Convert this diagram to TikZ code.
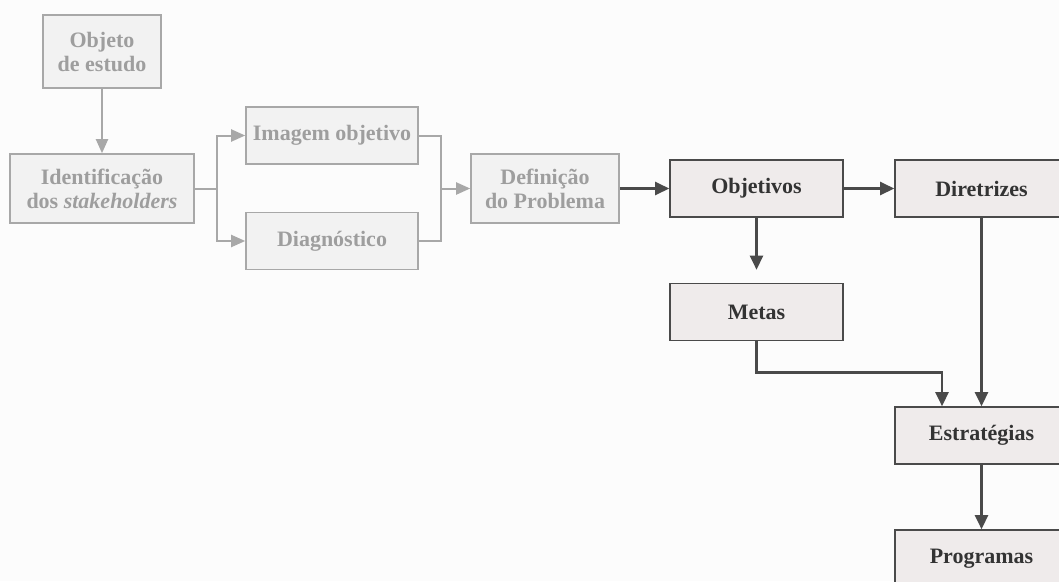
\documentclass[tikz,border=0pt]{standalone}
\usepackage{fontspec}
\setmainfont{Liberation Serif}
\usetikzlibrary{arrows.meta,positioning}

\definecolor{pagebg}{HTML}{FCFCFC}
\definecolor{softfill}{HTML}{F2F2F2}
\definecolor{softline}{HTML}{A8A8A8}
\definecolor{softtext}{HTML}{9E9E9E}
\definecolor{hardfill}{HTML}{EFEBEB}
\definecolor{hardline}{HTML}{4A4A4A}
\definecolor{hardtext}{HTML}{333333}

\tikzset{
  box/.style={rectangle,draw,line width=1.6pt,align=center,
    font=\fontsize{22}{24}\selectfont\bfseries,inner sep=0pt},
  softbox/.style={box,draw=softline,fill=softfill,text=softtext},
  hardbox/.style={box,draw=hardline,fill=hardfill,text=hardtext,
    minimum width=173pt,minimum height=57pt},
  softarrow/.style={draw=softline,line width=2pt,
    -{Triangle[length=14pt,width=12pt]}},
  hardarrow/.style={draw=hardline,line width=2.4pt,
    -{Triangle[length=14pt,width=13pt]}},
}

\begin{document}
\begin{tikzpicture}[x=1pt,y=1pt,on grid]
   \useasboundingbox (0,0) rectangle (1059,-581);
   \fill[pagebg] (0,0) rectangle (1059,-581);
   \clip (0,0) rectangle (1059,-581);

   \node[softbox,minimum width=118pt,minimum height=73pt] (objeto) at (102,-51.5) {Objeto\\de estudo};
   \node[softbox,minimum width=184pt,minimum height=69pt] (ident) [below=137pt of objeto] {Identificação\\dos \textit{stakeholders}};
   \node[softbox,minimum width=172pt,minimum height=57pt] (imagem) [above right=53pt and 230pt of ident] {Imagem objetivo};
   \node[softbox,minimum width=172pt,minimum height=57pt] (diag) [below right=52.5pt and 230pt of ident] {Diagnóstico};
   \node[softbox,minimum width=148pt,minimum height=69pt] (defin) [right=443pt of ident] {Definição\\do Problema};

   \node[hardbox] (objetivos) [right=211.5pt of defin] {Objetivos};
   \node[hardbox] (diretrizes) [right=225pt of objetivos] {Diretrizes};
   \node[hardbox] (metas) [below=123.5pt of objetivos] {Metas};
   \node[hardbox] (estrat) [below=247pt of diretrizes] {Estratégias};
   \node[hardbox] (programas) [below=123pt of estrat] {Programas};

   \coordinate (split) at ([xshift=22pt]ident.east);
   \coordinate (join) at ([xshift=-29pt]defin.west);

   % grey part
   \draw[softarrow] (objeto) -- (ident);
   \draw[draw=softline,line width=2pt] (ident.east) -- (split);
   \draw[softarrow] (split) |- (imagem);
   \draw[softarrow] (split) |- (diag);
   \draw[draw=softline,line width=2pt] (imagem.east) -| (join) |- (diag.east);
   \draw[softarrow] (join) -- (defin);

   % dark part
   \draw[hardarrow] (defin) -- (objetivos);
   \draw[hardarrow] (objetivos) -- (diretrizes);
   \draw[hardarrow,shorten >=13pt] (objetivos) -- (metas);
   \draw[hardarrow] (metas.south) -- ++(0,-31) -| ([xshift=-39.5pt]estrat.north);
   \draw[hardarrow] (diretrizes) -- (estrat);
   \draw[hardarrow] (estrat) -- (programas);
\end{tikzpicture}
\end{document}
